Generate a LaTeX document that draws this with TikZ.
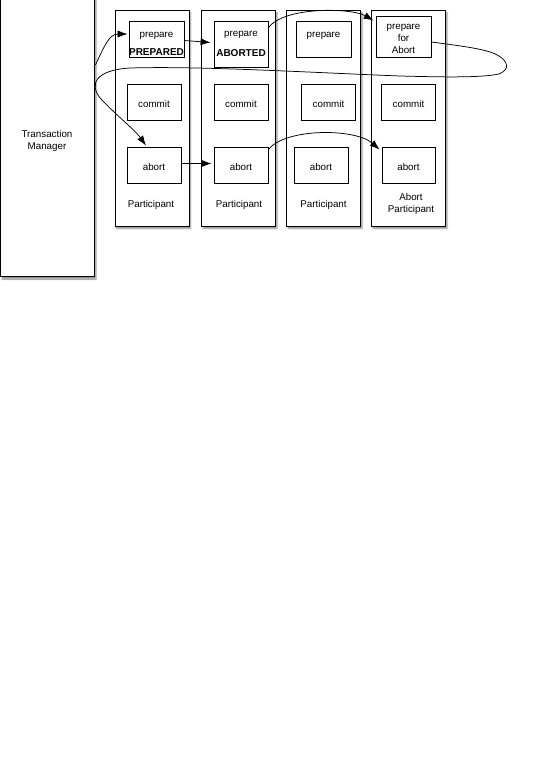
\documentclass[tikz,border=0pt]{standalone}
\usepackage{fontspec}
\setmainfont{Liberation Sans}
\usetikzlibrary{arrows.meta,calc,shadows.blur}

\tikzset{
  lane/.style={draw, line width=0.8pt, fill=white, inner sep=0pt,
    minimum width=74pt, minimum height=216pt,
    blur shadow={shadow xshift=1.5pt, shadow yshift=-2.5pt,
      shadow blur radius=1.5pt, shadow opacity=45}},
  manager/.style={draw, line width=0.8pt, fill=white, inner sep=0pt,
    minimum width=94pt, minimum height=282pt,
    blur shadow={shadow xshift=1.5pt, shadow yshift=-2.5pt,
      shadow blur radius=1.5pt, shadow opacity=45}},
  opbox/.style={draw, line width=0.8pt, fill=white, inner sep=0pt,
    minimum width=54pt, minimum height=36pt},
  txt/.style={inner sep=0pt, align=center, font=\fontsize{9.8}{12}\selectfont},
  state/.style={inner sep=0pt, font=\fontsize{10}{12}\selectfont\bfseries},
  flow/.style={line width=0.75pt, -{Latex[length=10pt,width=7pt]}}
}

\begin{document}
\begin{tikzpicture}[x=1pt,y=-1pt]
\useasboundingbox (0,0) rectangle (559,782);

% transaction manager
\node[manager] (tm) at (47.5,135.5) {};
\node[txt] (tmlabel) at (47,140.5) {Transaction\\Manager};

% participant lanes
\node[lane] (l1) at (152,118) {};
\node[lane] (l2) at (238.5,118) {};
\node[lane] (l3) at (323.5,118) {};
\node[lane] (l4) at (408.5,118) {};

% prepare boxes
\node[opbox, minimum width=55pt] (pr1) at (156.5,39) {};
\node[opbox, minimum height=46pt] (pr2) at (241,44) {};
\node[opbox, minimum width=55pt] (pr3) at (323.5,39) {};
\node[opbox, minimum width=55pt, minimum height=41pt] (pr4) at (403.5,36.5) {};
\node[txt] (pr1t) at (156.5,35.5) {prepare};
\node[state] (pr1s) at (156.5,52) {PREPARED};
\node[txt] (pr2t) at (241,35) {prepare};
\node[state] (pr2s) at (241,53) {ABORTED};
\node[txt] (pr3t) at (323.5,36) {prepare};
\node[txt] (pr4t) at (403.5,38.5) {prepare\\for\\Abort};

% commit boxes
\node[opbox] (c1) at (154,102) {};
\node[opbox] (c2) at (241,102) {};
\node[opbox] (c3) at (328.5,102) {};
\node[opbox] (c4) at (408.5,102) {};
\node[txt] at ($(c1)+(0,1.5)$) {commit};
\node[txt] at ($(c2)+(0,1.5)$) {commit};
\node[txt] at ($(c3)+(0,1.5)$) {commit};
\node[txt] at ($(c4)+(0,1.5)$) {commit};

% abort boxes
\node[opbox] (a1) at (154,165) {};
\node[opbox] (a2) at (241,165) {};
\node[opbox] (a3) at (321,165) {};
\node[opbox, minimum width=53pt] (a4) at (408.5,165) {};
\node[txt] at ($(a1)+(0,1.5)$) {abort};
\node[txt] at ($(a2)+(0,1.5)$) {abort};
\node[txt] at ($(a3)+(0,1.5)$) {abort};
\node[txt] at ($(a4)+(0,1.5)$) {abort};

% lane captions
\node[txt] (cap1) at (151,204.5) {Participant};
\node[txt] (cap2) at (239,204.5) {Participant};
\node[txt] (cap3) at (323.5,204.5) {Participant};
\node[txt] (cap4) at (411,204) {Abort\\Participant};

% message flow
\draw[flow] ($(tm.east)+(0.5,-70.5)$) .. controls (104,47) and (109,34) .. ($(pr1.west)+(-1,-5)$);
\draw[flow] ($(pr1.east)+(0,1.5)$) -- ($(pr2.west)+(-3,-1.5)$);
\draw[flow] ($(pr2.north east)+(0,7)$) .. controls (285,6) and (352,8) .. ($(pr4.north west)+(-2,5)$);
\draw[flow] ($(pr4.east)+(0,5.5)$) .. controls (470,47) and (490,50) .. (499,56)
  .. controls (507,61) and (511,69) .. (499,74)
  .. controls (480,78) and (440,77) .. (400,76)
  .. controls (300,72) and (200,66) .. (130,68)
  .. controls (96,70) and (88,84) .. (101,99)
  .. controls (116,115) and (135,130) .. ($(a1.north)+(-8,-1)$);
\draw[flow] ($(a1.east)+(0,-1.5)$) -- ($(a2.west)+(-2,-1.5)$);
\draw[flow] ($(a2.north east)+(0,3)$) .. controls (285,128) and (355,128) .. ($(a4.north west)+(-2,3)$);
\end{tikzpicture}
\end{document}
